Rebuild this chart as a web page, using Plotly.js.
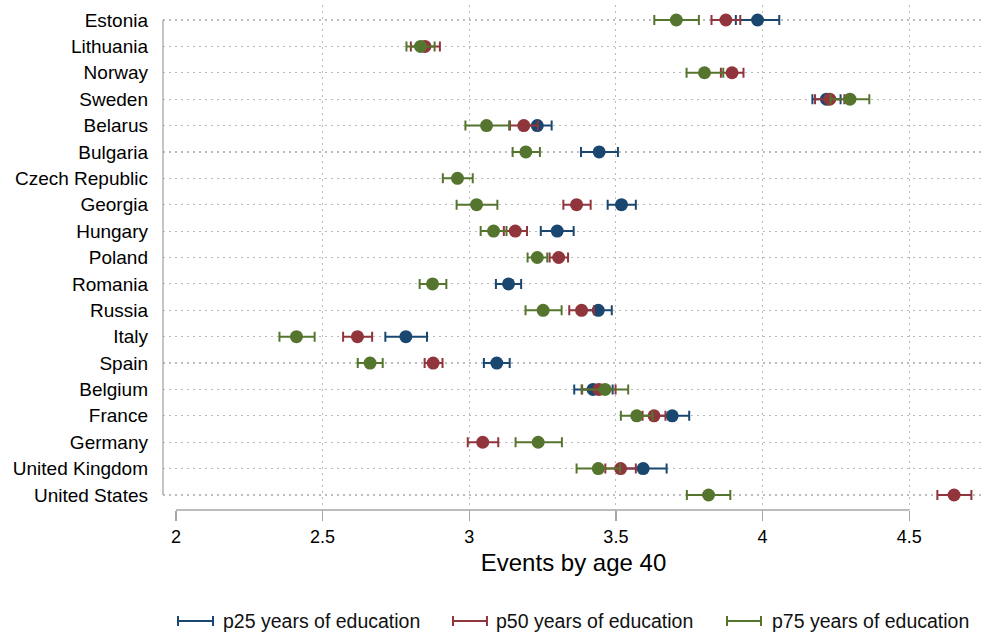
<!DOCTYPE html>
<html>
<head>
<meta charset="utf-8">
<script src="https://cdn.plot.ly/plotly-3.0.1.min.js"></script>
<style>html,body{margin:0;padding:0;background:#fff;}#chart{width:984px;height:634px;}</style>
</head>
<body>
<div id="chart"></div>
<script>
// ---- Data ----
const countries = ["Estonia","Lithuania","Norway","Sweden","Belarus","Bulgaria","Czech Republic","Georgia","Hungary","Poland","Romania","Russia","Italy","Spain","Belgium","France","Germany","United Kingdom","United States"];

const p25_mean = [3.983, null, null, 4.218, 3.232, 3.443, null, 3.519, 3.300, null, 3.134, 3.440, 2.784, 3.094, 3.422, 3.692, null, 3.593, null];
const p25_lo   = [3.909, null, null, 4.170, 3.183, 3.381, null, 3.472, 3.244, null, 3.091, 3.394, 2.714, 3.050, 3.358, 3.634, null, 3.513, null];
const p25_hi   = [4.057, null, null, 4.266, 3.281, 3.507, null, 3.568, 3.356, null, 3.177, 3.486, 2.856, 3.138, 3.489, 3.750, null, 3.673, null];

const p50_mean = [3.875, 2.849, 3.896, 4.229, 3.186, null, null, 3.366, 3.157, 3.305, null, 3.383, 2.619, 2.877, 3.442, 3.630, 3.046, 3.516, 4.653];
const p50_lo   = [3.826, 2.801, 3.858, 4.179, 3.139, null, null, 3.321, 3.118, 3.274, null, 3.341, 2.570, 2.848, 3.385, 3.591, 2.995, 3.464, 4.596];
const p50_hi   = [3.924, 2.900, 3.935, 4.279, 3.234, null, null, 3.414, 3.197, 3.337, null, 3.425, 2.669, 2.909, 3.499, 3.669, 3.099, 3.568, 4.712];

const p75_mean = [3.706, 2.834, 3.802, 4.298, 3.059, 3.193, 2.960, 3.025, 3.083, 3.232, 2.875, 3.252, 2.411, 2.662, 3.463, 3.571, 3.235, 3.440, 3.816];
const p75_lo   = [3.631, 2.786, 3.741, 4.232, 2.987, 3.148, 2.910, 2.957, 3.039, 3.199, 2.831, 3.192, 2.353, 2.620, 3.383, 3.517, 3.158, 3.366, 3.742];
const p75_hi   = [3.783, 2.882, 3.866, 4.364, 3.136, 3.241, 3.012, 3.096, 3.127, 3.266, 2.922, 3.315, 2.473, 2.705, 3.542, 3.625, 3.316, 3.514, 3.890];

const seriesNames = ["p25 years of education", "p50 years of education", "p75 years of education"];
const xTicks = [2, 2.5, 3, 3.5, 4, 4.5];
const xTickText = ["2", "2.5", "3", "3.5", "4", "4.5"];
const xGrid = [2.5, 3, 3.5, 4, 4.5];

// ---- Styling ----
const colors = ["#1a476f", "#90353b", "#55752f"];
const FONT = "Liberation Sans, Arial, Helvetica, sans-serif";
const yIdx = countries.map((c, i) => i);

function mkTrace(mean, lo, hi, color, name) {
  return {
    type: "scatter", mode: "markers", name: name, showlegend: false,
    x: mean, y: yIdx,
    marker: {color: color, size: 13, line: {width: 0}},
    error_x: {
      type: "data", symmetric: false,
      array: mean.map((m, i) => m == null ? null : hi[i] - m),
      arrayminus: mean.map((m, i) => m == null ? null : m - lo[i]),
      color: color, thickness: 2, width: 5
    },
    hoverinfo: "skip"
  };
}

const traces = [
  mkTrace(p25_mean, p25_lo, p25_hi, colors[0], seriesNames[0]),
  mkTrace(p50_mean, p50_lo, p50_hi, colors[1], seriesNames[1]),
  mkTrace(p75_mean, p75_lo, p75_hi, colors[2], seriesNames[2]),
  {type: "scatter", mode: "markers", x: [], y: [], xaxis: "x2", showlegend: false, hoverinfo: "skip"}
];

const xr = [1.956, 4.755];
const yr = [countries.length - 1 + 0.568, -0.568];
const axisGray = "#a6a6a6";
const gridGray = "#bcbcbc";
const gridDash = "1.5px,4.5px";

// legend (manual, Stata-style capped line symbols)
const legendY = -0.2198;
const legX = [[0.0183, 0.0609, 0.0707], [0.3532, 0.3946, 0.4032], [0.6870, 0.7284, 0.7394]];
const shapes = [
  {type: "line", xref: "x", yref: "paper", x0: xTicks[0], x1: xTicks[xTicks.length - 1], y0: 0, y1: 0, line: {color: axisGray, width: 1.3}},
  {type: "line", xref: "paper", yref: "y", x0: 0, x1: 0, y0: 0, y1: countries.length - 1, line: {color: axisGray, width: 1.3}}
];
const annotations = [];
legX.forEach((lx, k) => {
  shapes.push({type: "line", xref: "paper", yref: "paper", x0: lx[0], x1: lx[1], y0: legendY, y1: legendY, line: {color: colors[k], width: 2}});
  shapes.push({type: "line", xref: "paper", yref: "paper", x0: lx[0], x1: lx[0], y0: legendY - 0.0099, y1: legendY + 0.0099, line: {color: colors[k], width: 2}});
  shapes.push({type: "line", xref: "paper", yref: "paper", x0: lx[1], x1: lx[1], y0: legendY - 0.0099, y1: legendY + 0.0099, line: {color: colors[k], width: 2}});
  annotations.push({xref: "paper", yref: "paper", x: lx[2], y: legendY, xanchor: "left", yanchor: "middle", showarrow: false, text: seriesNames[k], font: {family: FONT, size: 19.5, color: "#111"}});
});

const layout = {
  width: 984, height: 634,
  margin: {l: 163, r: 0, t: 5, b: 124, pad: 0},
  paper_bgcolor: "#fff", plot_bgcolor: "#fff",
  showlegend: false,
  hovermode: false,
  font: {family: FONT, size: 19, color: "#000"},
  xaxis: {
    range: xr, tickvals: xTicks, ticktext: xTickText,
    showgrid: false, zeroline: false, showline: false,
    ticks: "outside", ticklen: 10, tickwidth: 1.3, tickcolor: axisGray,
    tickfont: {family: FONT, size: 18, color: "#000"},
    title: {text: "Events by age 40", font: {family: FONT, size: 24, color: "#000"}, standoff: 8}
  },
  xaxis2: {
    overlaying: "x", range: xr, tickvals: xGrid, showticklabels: false, ticks: "",
    showgrid: true, gridcolor: gridGray, griddash: gridDash, gridwidth: 1.2, zeroline: false, showline: false
  },
  yaxis: {
    range: yr, tickvals: yIdx, ticktext: countries,
    showgrid: true, gridcolor: gridGray, griddash: gridDash, gridwidth: 1.2,
    zeroline: false, showline: false, ticks: "", ticklabelstandoff: 14,
    tickfont: {family: FONT, size: 19, color: "#000"}
  },
  shapes: shapes,
  annotations: annotations
};

Plotly.newPlot("chart", traces, layout, {displayModeBar: false, staticPlot: true});
</script>
</body>
</html>
